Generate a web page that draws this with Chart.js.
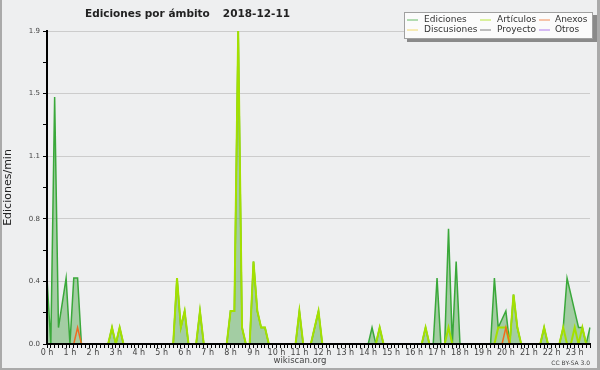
<!DOCTYPE html>
<html>
<head>
<meta charset="utf-8">
<script src="https://cdn.jsdelivr.net/npm/chart.js@4/dist/chart.umd.min.js"></script>
<style>
  body { margin: 0; background: #eeeff0; }
  canvas { display: block; }
</style>
</head>
<body>
<canvas id="chart" width="600" height="370"></canvas>
<script>
// 10-minute slots from 0:00 to 23:40, values in edits/min
const ediciones = [
  0.4, 0, 1.5, 0.1, 0.25, 0.4, 0, 0.4, 0.4, 0, 0, 0,
  0, 0, 0, 0, 0, 0.1, 0, 0.1, 0, 0, 0, 0,
  0, 0, 0, 0, 0, 0, 0, 0, 0, 0, 0.4, 0.1,
  0.2, 0, 0, 0, 0.2, 0, 0, 0, 0, 0, 0, 0,
  0.2, 0.2, 1.9, 0.1, 0, 0, 0.5, 0.2, 0.1, 0.1, 0, 0,
  0, 0, 0, 0, 0, 0, 0.2, 0, 0, 0, 0.1, 0.2,
  0, 0, 0, 0, 0, 0, 0, 0, 0, 0, 0, 0,
  0, 0.1, 0, 0.1, 0, 0, 0, 0, 0, 0, 0, 0,
  0, 0, 0, 0.1, 0, 0, 0.4, 0, 0, 0.7, 0, 0.5,
  0, 0, 0, 0, 0, 0, 0, 0, 0, 0.4, 0.1, 0.15,
  0.2, 0, 0.3, 0.1, 0, 0, 0, 0, 0, 0, 0.1, 0,
  0, 0, 0, 0.1, 0.4, 0.3, 0.2, 0.1, 0.1, 0, 0.1
];
const articulos = [
  0, 0, 0, 0, 0, 0, 0, 0, 0, 0, 0, 0,
  0, 0, 0, 0, 0, 0.1, 0, 0.1, 0, 0, 0, 0,
  0, 0, 0, 0, 0, 0, 0, 0, 0, 0, 0.4, 0.1,
  0.2, 0, 0, 0, 0.2, 0, 0, 0, 0, 0, 0, 0,
  0.2, 0.2, 1.9, 0.1, 0, 0, 0.5, 0.2, 0.1, 0.1, 0, 0,
  0, 0, 0, 0, 0, 0, 0.2, 0, 0, 0, 0.1, 0.2,
  0, 0, 0, 0, 0, 0, 0, 0, 0, 0, 0, 0,
  0, 0, 0, 0.1, 0, 0, 0, 0, 0, 0, 0, 0,
  0, 0, 0, 0.1, 0, 0, 0, 0, 0, 0.1, 0, 0,
  0, 0, 0, 0, 0, 0, 0, 0, 0, 0, 0.1, 0.1,
  0.1, 0, 0.3, 0.1, 0, 0, 0, 0, 0, 0, 0.1, 0,
  0, 0, 0, 0.1, 0, 0, 0.1, 0, 0.1, 0, 0
];
const anexos = [
  0, 0, 0, 0, 0, 0, 0, 0, 0.1, 0, 0, 0,
  0, 0, 0, 0, 0, 0, 0, 0, 0, 0, 0, 0,
  0, 0, 0, 0, 0, 0, 0, 0, 0, 0, 0, 0,
  0, 0, 0, 0, 0, 0, 0, 0, 0, 0, 0, 0,
  0, 0, 0, 0, 0, 0, 0, 0, 0, 0, 0, 0,
  0, 0, 0, 0, 0, 0, 0, 0, 0, 0, 0, 0,
  0, 0, 0, 0, 0, 0, 0, 0, 0, 0, 0, 0,
  0, 0, 0, 0, 0, 0, 0, 0, 0, 0, 0, 0,
  0, 0, 0, 0, 0, 0, 0, 0, 0, 0, 0, 0,
  0, 0, 0, 0, 0, 0, 0, 0, 0, 0, 0, 0,
  0.1, 0, 0, 0, 0, 0, 0, 0, 0, 0, 0, 0,
  0, 0, 0, 0, 0, 0, 0, 0, 0, 0, 0
];
// nothing visible for these three
const discusiones = [
  0, 0, 0, 0, 0, 0, 0, 0, 0, 0, 0, 0,
  0, 0, 0, 0, 0, 0, 0, 0, 0, 0, 0, 0,
  0, 0, 0, 0, 0, 0, 0, 0, 0, 0, 0, 0,
  0, 0, 0, 0, 0, 0, 0, 0, 0, 0, 0, 0,
  0, 0, 0, 0, 0, 0, 0, 0, 0, 0, 0, 0,
  0, 0, 0, 0, 0, 0, 0, 0, 0, 0, 0, 0,
  0, 0, 0, 0, 0, 0, 0, 0, 0, 0, 0, 0,
  0, 0, 0, 0, 0, 0, 0, 0, 0, 0, 0, 0,
  0, 0, 0, 0, 0, 0, 0, 0, 0, 0, 0, 0,
  0, 0, 0, 0, 0, 0, 0, 0, 0, 0, 0, 0,
  0, 0, 0, 0, 0, 0, 0, 0, 0, 0, 0, 0,
  0, 0, 0, 0, 0, 0, 0, 0, 0, 0, 0
];
const proyecto = discusiones.slice();
const otros = discusiones.slice();

const hourLabels = ["0 h", "1 h", "2 h", "3 h", "4 h", "5 h", "6 h", "7 h", "8 h", "9 h", "10 h", "11 h",
  "12 h", "13 h", "14 h", "15 h", "16 h", "17 h", "18 h", "19 h", "20 h", "21 h", "22 h", "23 h"];
const slots = ediciones.map((v, i) => Math.floor(i / 6) + ":" + (i % 6) + "0");
const yTicks = [0, 0.19, 0.38, 0.57, 0.76, 0.95, 1.14, 1.33, 1.52, 1.71, 1.9];

const FONT = "'DejaVu Sans', sans-serif";

const series = [
  { label: "Ediciones", data: ediciones, color: "#3aa83a", width: 1.5, order: 6 },
  { label: "Discusiones", data: discusiones, color: "#f0d040", width: 1.5, order: 4 },
  { label: "Artículos", data: articulos, color: "#a4e000", width: 2, order: 1 },
  { label: "Proyecto", data: proyecto, color: "#555555", width: 1.5, order: 3 },
  { label: "Anexos", data: anexos, color: "#f06a20", width: 1.5, order: 0 },
  { label: "Otros", data: otros, color: "#9a50ea", width: 1.5, order: 2 }
];

// background + frame
const frame = {
  id: "frame",
  beforeDraw(chart) {
    const c = chart.ctx;
    c.save();
    c.fillStyle = "#eeeff0";
    c.fillRect(0, 0, chart.width, chart.height);
    c.fillStyle = "#aaaaaa";
    c.fillRect(0, 0, 2, chart.height);
    c.fillRect(chart.width - 3, 0, 3, chart.height);
    c.fillRect(0, chart.height - 2, chart.width, 2);
    c.restore();
  }
};

// title, legend box and footer texts
const extras = {
  id: "extras",
  afterDraw(chart) {
    const c = chart.ctx;
    c.save();
    c.textBaseline = "middle";
    c.fillStyle = "#222";
    c.font = "bold 10.5px " + FONT;
    c.fillText("Ediciones por ámbito", 85, 14);
    c.textAlign = "right";
    c.fillText("2018-12-11", 290, 14);
    c.textAlign = "left";

    // legend box with shadow
    c.fillStyle = "#8a8a8a";
    c.fillRect(407, 15, 190, 27);
    c.fillStyle = "#fbfbfb";
    c.fillRect(404, 12, 189, 27);
    c.strokeStyle = "#a0a0a0";
    c.lineWidth = 1;
    c.strokeRect(404.5, 12.5, 188, 26);

    const cols = [[407, 424], [480, 497], [539, 555]];
    const rows = [19.5, 29.5];
    c.font = "9px " + FONT;
    series.forEach((s, i) => {
      const col = cols[Math.floor(i / 2)];
      const y = rows[i % 2];
      c.strokeStyle = s.color;
      c.globalAlpha = 0.75;
      c.beginPath();
      c.moveTo(col[0], y + 0.5);
      c.lineTo(col[0] + 11, y + 0.5);
      c.stroke();
      c.globalAlpha = 1;
      c.fillStyle = "#333";
      c.fillText(s.label, col[1], y);
    });

    c.fillStyle = "#444";
    c.font = "8.5px " + FONT;
    c.textAlign = "center";
    c.fillText("wikiscan.org", 300, 360.5);
    c.textAlign = "right";
    c.font = "6px " + FONT;
    c.fillText("CC BY-SA 3.0", 590, 363);
    c.restore();
  }
};

new Chart(document.getElementById("chart"), {
  type: "line",
  data: {
    labels: slots,
    datasets: series.map(s => ({
      label: s.label,
      data: s.data,
      borderColor: s.color,
      borderWidth: s.width,
      order: s.order,
      pointRadius: 0,
      tension: 0,
      fill: s.label === "Ediciones" ? "origin" : false,
      backgroundColor: s.label === "Ediciones" ? "rgba(88,171,86,0.5)" : s.color
    }))
  },
  options: {
    responsive: false,
    animation: false,
    layout: { padding: { top: 31, right: 10, left: 0, bottom: 0 } },
    plugins: {
      legend: { display: false },
      title: { display: false },
      tooltip: { enabled: false }
    },
    scales: {
      x: {
        grid: { drawOnChartArea: false, tickLength: 4, tickColor: "#000", tickWidth: 1 },
        border: { color: "#000", width: 2, z: 1 },
        ticks: {
          autoSkip: false,
          maxRotation: 0,
          padding: 0,
          color: "#444",
          font: { family: FONT, size: 8 },
          callback: (v, i) => (i % 6 === 0 ? hourLabels[i / 6] : "")
        },
        afterFit: s => { s.height = 26; }
      },
      y: {
        min: 0,
        max: 1.9,
        afterBuildTicks: s => { s.ticks = yTicks.map(v => ({ value: v })); },
        grid: {
          color: c => (c.index > 0 && c.index % 2 === 0 ? "#cccccc" : "rgba(0,0,0,0)"),
          tickColor: "#000",
          tickLength: 4
        },
        border: { color: "#000", width: 2, z: 1 },
        ticks: {
          padding: 3,
          color: "#444",
          font: { family: FONT, size: 7 },
          callback: (v, i) => (i % 2 === 0 ? v.toFixed(1) : "")
        },
        title: {
          display: true,
          text: "Ediciones/min",
          color: "#222",
          font: { family: FONT, size: 11 },
          padding: { top: 2, bottom: 0 }
        },
        afterFit: s => { s.width = 47; }
      }
    }
  },
  plugins: [frame, extras]
});
</script>
</body>
</html>
